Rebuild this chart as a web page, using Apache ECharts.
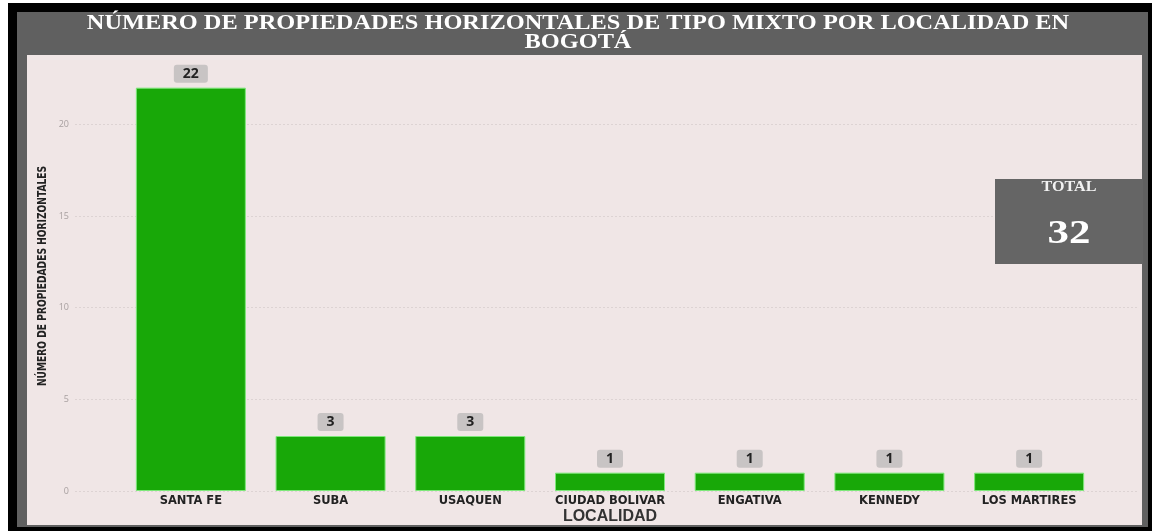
<!DOCTYPE html>
<html>
<head>
<meta charset="utf-8">
<script src="https://cdn.jsdelivr.net/npm/echarts@6/dist/echarts.min.js"></script>
<style>html,body{margin:0;padding:0;background:#000;}#c{width:1152px;height:531px;}</style>
</head>
<body>
<div id="c"></div>
<script>
const categories = ['SANTA FE','SUBA','USAQUEN','CIUDAD BOLIVAR','ENGATIVA','KENNEDY','LOS MARTIRES'];
const values = [22, 3, 3, 1, 1, 1, 1];
const yTicks = [0, 5, 10, 15, 20];
const titleText = 'NÚMERO DE PROPIEDADES HORIZONTALES DE TIPO MIXTO POR LOCALIDAD EN\nBOGOTÁ';
const yTitle = 'NÚMERO DE PROPIEDADES HORIZONTALES';
const xTitle = 'LOCALIDAD';
const totalLabel = 'TOTAL';
const totalValue = 32;

const chart = echarts.init(document.getElementById('c'), null, {renderer:'canvas'});
const gridTop = 51, gridBottom = 40, yMax = 24;
chart.setOption({
  backgroundColor: '#000',
  animation: false,
  graphic: [
    {type:'rect', z:-10, shape:{x:0,y:0,width:8,height:531}, style:{fill:'#fff'}},
    {type:'rect', z:-10, shape:{x:0,y:0,width:1152,height:3}, style:{fill:'#fff'}},
    {type:'rect', z:-9, shape:{x:17,y:12,width:1131,height:515}, style:{fill:'#606060'}},
    {type:'rect', z:-8, shape:{x:27,y:55,width:1115,height:470}, style:{fill:'#f0e6e6'}},
    {type:'text', z:5, x:578, y:14, scaleX:1.16, scaleY:1,
      style:{text:titleText, fill:'#ffffff', font:'bold 21px "Liberation Serif", serif', lineHeight:19, textAlign:'center', textVerticalAlign:'top'}},
    {type:'text', z:5, x:43, y:276, rotation:Math.PI/2, scaleX:0.78, scaleY:1,
      style:{text:yTitle, fill:'#222', font:'bold 13px "DejaVu Sans Condensed", "Liberation Sans Narrow", sans-serif', textAlign:'center', textVerticalAlign:'middle'}},
    {type:'text', z:5, x:610, y:517,
      style:{text:xTitle, fill:'#333', font:'bold 16px "Liberation Sans", Arial, sans-serif', textAlign:'center', textVerticalAlign:'middle'}},
    {type:'rect', z:5, shape:{x:995,y:179,width:148,height:85}, style:{fill:'#656565'}},
    {type:'text', z:6, x:1069, y:187, scaleX:1.15, style:{text:totalLabel, fill:'#f2f2f2', font:'bold 14px "Liberation Serif", serif', textAlign:'center', textVerticalAlign:'middle'}},
    {type:'text', z:6, x:1069, y:234, scaleX:1.3, style:{text:String(totalValue), fill:'#ffffff', font:'bold 33px "Liberation Serif", serif', textAlign:'center', textVerticalAlign:'middle'}}
  ],
  grid: [
    {left:121, right:53, top:gridTop, bottom:gridBottom, containLabel:false, outerBoundsMode:'none'},
    {left:75, right:15, top:gridTop, bottom:gridBottom, containLabel:false, outerBoundsMode:'none'}
  ],
  xAxis: [
    {type:'category', gridIndex:0, data:categories,
      axisLine:{show:false}, axisTick:{show:false},
      axisLabel:{interval:0, hideOverlap:false, margin:4, color:'#222', fontWeight:'bold', fontSize:11.5, fontFamily:'"DejaVu Sans", sans-serif'}},
    {type:'value', gridIndex:1, show:false, min:0, max:1}
  ],
  yAxis: [
    {type:'value', gridIndex:0, min:0, max:yMax, interval:5, show:false, splitLine:{show:false}},
    {type:'value', gridIndex:1, min:0, max:yMax, interval:5,
      axisLine:{show:false}, axisTick:{show:false},
      axisLabel:{margin:6, color:'#a8a0a0', fontSize:9, fontFamily:'"Open Sans", sans-serif', showMaxLabel:false,
        formatter: v => yTicks.indexOf(v) >= 0 ? String(v) : ''},
      splitLine:{show:true, showMaxLine:false, lineStyle:{color:'#ddd3d3', width:1, type:[2,2]}}}
  ],
  series: [{
    type:'bar', xAxisIndex:0, yAxisIndex:0, data:values, barWidth:110,
    itemStyle:{color:'#18a808', borderColor:'#7ee87a', borderWidth:1},
    label:{show:true, position:'top', distance:5, color:'#222', fontWeight:'bold', fontSize:14,
      fontFamily:'"Open Sans", "Liberation Sans", sans-serif',
      backgroundColor:'#c8c4c4', borderRadius:3, padding:[2,9,1,9], lineHeight:15}
  }]
});
</script>
</body>
</html>
